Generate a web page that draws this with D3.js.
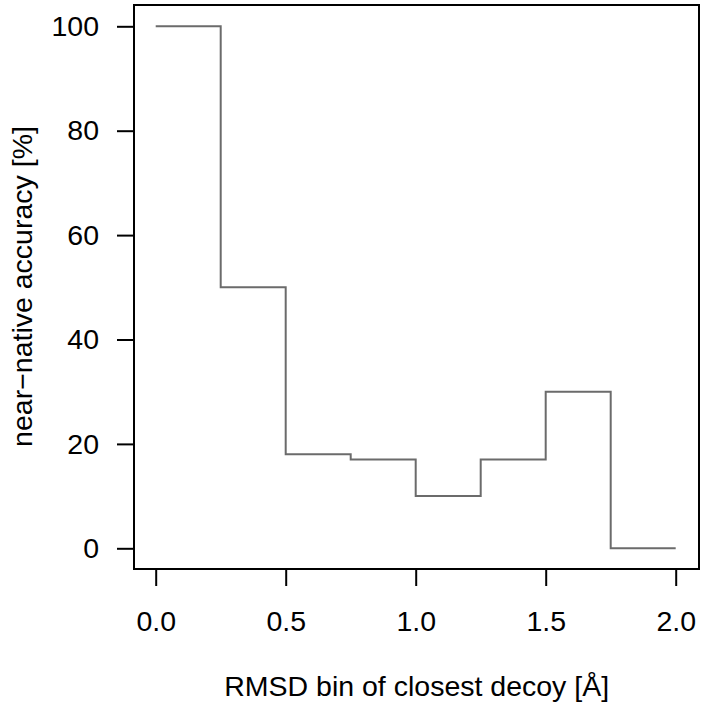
<!DOCTYPE html>
<html>
  <head>
    <script type="text/javascript" src="https://cdn.jsdelivr.net/npm/d3@7"></script>
    <style>
      body { margin: 0; background: #fff; }
      text { font-family: "Liberation Sans", Arial, sans-serif; fill: #000; }
    </style>
  </head>
  <body>
    <script type="text/javascript">
      // bin edges (RMSD, Å) and near-native accuracy (%) for each bin start
      const binStarts = [0, 0.25, 0.5, 0.75, 1.0, 1.25, 1.5, 1.75, 2.0];
      const accuracy = [100, 50, 18, 17, 10, 17, 30, 0, 0];
      const xTicks = [0, 0.5, 1.0, 1.5, 2.0];
      const yTicks = [0, 20, 40, 60, 80, 100];

      const W = 704, H = 710;
      const fs = 28.5;
      // plot box
      const box = { left: 134, top: 5, right: 699, bottom: 569 };

      const svg = d3.select("body").append("svg")
        .attr("width", W)
        .attr("height", H);

      const x = d3.scaleLinear().domain([0, 2]).range([155.7, 675.7]);
      const y = d3.scaleLinear().domain([0, 100]).range([548.3, 26.3]);

      const data = binStarts.map(function (d, i) {
        return { x: d, y: accuracy[i] };
      });

      // step line
      const line = d3.line()
        .x(function (d) { return x(d.x); })
        .y(function (d) { return y(d.y); })
        .curve(d3.curveStepAfter);

      svg.append("path")
        .datum(data)
        .attr("d", line)
        .attr("fill", "none")
        .attr("stroke", "#6b6b6b")
        .attr("stroke-width", 2);

      // box
      svg.append("rect")
        .attr("x", box.left)
        .attr("y", box.top)
        .attr("width", box.right - box.left)
        .attr("height", box.bottom - box.top)
        .attr("fill", "none")
        .attr("stroke", "#000")
        .attr("stroke-width", 2);

      // x axis (R style, ticks only)
      const xAxis = d3.axisBottom(x)
        .tickValues(xTicks)
        .tickSize(17)
        .tickPadding(25)
        .tickFormat(d3.format(".1f"));
      const gx = svg.append("g")
        .attr("transform", "translate(0," + box.bottom + ")")
        .call(xAxis);
      gx.select(".domain").remove();
      gx.selectAll("line").attr("stroke", "#000").attr("stroke-width", 2);
      gx.selectAll("text").attr("font-size", fs).attr("fill", "#000");

      const yAxis = d3.axisLeft(y)
        .tickValues(yTicks)
        .tickSize(17)
        .tickPadding(18)
        .tickFormat(d3.format("d"));
      const gy = svg.append("g")
        .attr("transform", "translate(" + box.left + ",0)")
        .call(yAxis);
      gy.select(".domain").remove();
      gy.selectAll("line").attr("stroke", "#000").attr("stroke-width", 2);
      gy.selectAll("text").attr("font-size", fs).attr("fill", "#000");

      // axis titles
      svg.append("text")
        .attr("x", 416.7)
        .attr("y", 696)
        .attr("text-anchor", "middle")
        .attr("font-size", fs)
        .text("RMSD bin of closest decoy [Å]");

      svg.append("text")
        .attr("transform", "translate(32,286.5) rotate(-90)")
        .attr("text-anchor", "middle")
        .attr("font-size", fs)
        .text("near−native accuracy [%]");
    </script>
  </body>
</html>
